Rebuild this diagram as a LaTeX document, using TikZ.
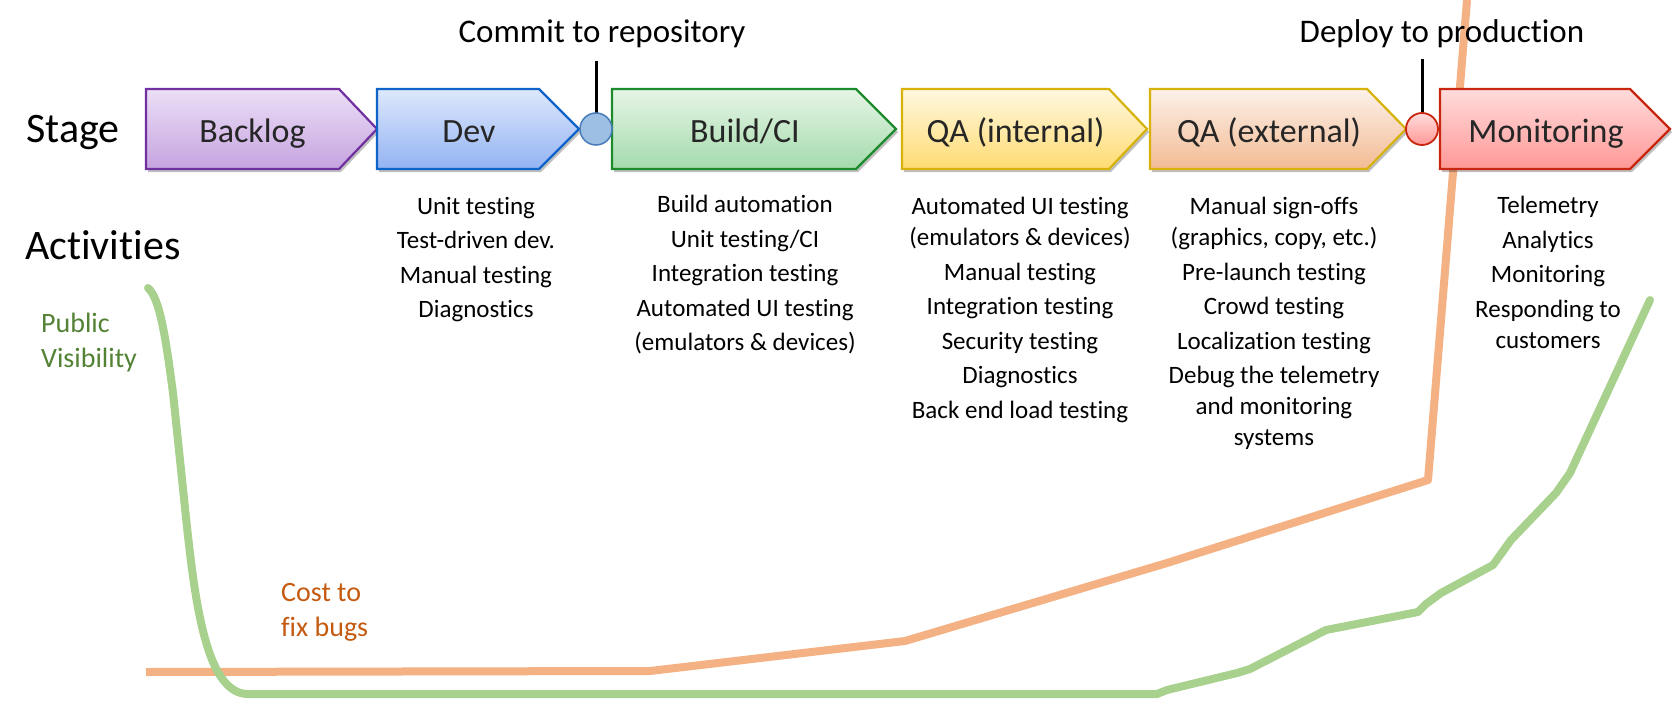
\documentclass[tikz,border=0pt]{standalone}
\usepackage{fontspec}
\setmainfont[Ligatures=NoCommon]{Carlito}
\usetikzlibrary{shadows}
\definecolor{bkB}{HTML}{7030A0}\definecolor{bkT}{HTML}{EBDFF6}\definecolor{bkU}{HTML}{C6A3E0}
\definecolor{dvB}{HTML}{0E64C8}\definecolor{dvT}{HTML}{DDE8FC}\definecolor{dvU}{HTML}{93B3F3}
\definecolor{buB}{HTML}{1D8A2C}\definecolor{buT}{HTML}{E6F5E6}\definecolor{buU}{HTML}{A4DBAC}
\definecolor{qiB}{HTML}{D6B20A}\definecolor{qiT}{HTML}{FFF8E0}\definecolor{qiU}{HTML}{FFDB72}
\definecolor{qeB}{HTML}{D6B20A}\definecolor{qeT}{HTML}{FCF1EA}\definecolor{qeU}{HTML}{F3BB93}
\definecolor{moB}{HTML}{C8260E}\definecolor{moT}{HTML}{FFDCDC}\definecolor{moU}{HTML}{FF9896}
\definecolor{cmF}{HTML}{9DBFE3}\definecolor{cmB}{HTML}{4A7EBB}
\definecolor{costC}{HTML}{F4B183}\definecolor{visC}{HTML}{A9D18E}
\definecolor{costT}{HTML}{C55A11}\definecolor{visT}{HTML}{548235}
\newcommand\stagebox[8]{%
  \path[draw=#5, top color=#6, bottom color=#7, line width=2.2pt, line join=miter, boxshadow]
    (#2,89) -- (#3,89) -- (#4,129) -- (#3,169) -- (#2,169) -- cycle;
  \node[lbl] (#1) at ({(#2+#4)/2-9},142) {#8};
}
\begin{document}
\begin{tikzpicture}[x=1pt,y=-1pt,
  boxshadow/.style={drop shadow={shadow xshift=2pt, shadow yshift=-3pt, opacity=0.25, fill=black}},
  lbl/.style={font=\fontsize{34}{40}\selectfont, text=black!85, anchor=base, inner sep=0pt},
  head/.style={font=\fontsize{42}{50}\selectfont, text=black, anchor=base west, inner sep=0pt},
  milestone/.style={font=\fontsize{33}{40}\selectfont, text=black, anchor=base, inner sep=0pt},
  acts/.style={font=\fontsize{25}{31}\selectfont, align=center, anchor=north, inner sep=0pt, text=black},
  curvelbl/.style={font=\fontsize{28}{35}\selectfont, align=left, anchor=north west, inner sep=0pt},
  curve/.style={line width=8pt, line join=round}]
\useasboundingbox (0,0) rectangle (1680,701);

% cost to fix bugs
\draw[curve, costC] (146,672) -- (650,671) -- (905,641) -- (1167,563) -- (1428,480) -- (1467,0);
% public visibility
\draw[curve, visC, line cap=round] (148,288) .. controls (160,298) and (166,340) .. (173,393)
  -- (187,527) .. controls (196,610) and (208,694) .. (248,694)
  -- (1157,694) -- (1167,690) -- (1237,673) -- (1250,669) -- (1326,630) -- (1418,612)
  -- (1426,604) -- (1441,593) -- (1493,565) -- (1511,540) -- (1556,493) -- (1570,473) -- (1650,300);

% headings
\node[head] (stage) at (26,142) {Stage};
\node[head] (activities) at (25,259) {Activities};

% stages
\stagebox{backlog}{146}{339}{377}{bkB}{bkT}{bkU}{Backlog}
\stagebox{dev}{377}{539}{579}{dvB}{dvT}{dvU}{Dev}
\stagebox{build}{612}{856}{896}{buB}{buT}{buU}{Build/CI}
\stagebox{qaint}{902}{1109}{1147}{qiB}{qiT}{qiU}{QA (internal)}
\stagebox{qaext}{1150}{1367}{1406}{qeB}{qeT}{qeU}{QA (external)}
\stagebox{monitor}{1440}{1630}{1670}{moB}{moT}{moU}{Monitoring}

% milestones
\coordinate (commitTop) at (596,61);
\coordinate (deployTop) at (1422,59);
\draw[line width=3pt] (596,129) -- (commitTop);
\draw[line width=3pt] (1422,129) -- (deployTop);
\node[circle, minimum size=32pt, inner sep=0pt, draw=cmB, fill=cmF, line width=1.5pt] (commit) at (596,129) {};
\node[circle, minimum size=32pt, inner sep=0pt, draw=moB, top color=moT, bottom color=moU, line width=1.8pt] (deploy) at (1422,129) {};
\node[milestone] (commitlbl) at (602,43) {Commit to repository};
\node[milestone] (deploylbl) at (1442,43) {Deploy to production};

% activities
\node[acts] (devacts) at (476,197) {Unit testing\\[3.5pt]Test-driven dev.\\[3.5pt]Manual testing\\[3.5pt]Diagnostics};
\node[acts] (buildacts) at (745,195) {Build automation\\[3.5pt]Unit testing/CI\\[3.5pt]Integration testing\\[3.5pt]Automated UI testing\\[3.5pt](emulators \& devices)};
\node[acts] (qaintacts) at (1020,197) {Automated UI testing\\(emulators \& devices)\\[3.5pt]Manual testing\\[3.5pt]Integration testing\\[3.5pt]Security testing\\[3.5pt]Diagnostics\\[3.5pt]Back end load testing};
\node[acts] (qaextacts) at (1274,197) {Manual sign-offs\\(graphics, copy, etc.)\\[3.5pt]Pre-launch testing\\[3.5pt]Crowd testing\\[3.5pt]Localization testing\\[3.5pt]Debug the telemetry\\and monitoring\\systems};
\node[acts] (monacts) at (1548,196) {Telemetry\\[3.5pt]Analytics\\[3.5pt]Monitoring\\[3.5pt]Responding to\\customers};

% curve labels
\node[curvelbl, text=visT] (vislbl) at (41,313) {Public\\Visibility};
\node[curvelbl, text=costT] (costlbl) at (281,583) {Cost to\\fix bugs};
\end{tikzpicture}
\end{document}
